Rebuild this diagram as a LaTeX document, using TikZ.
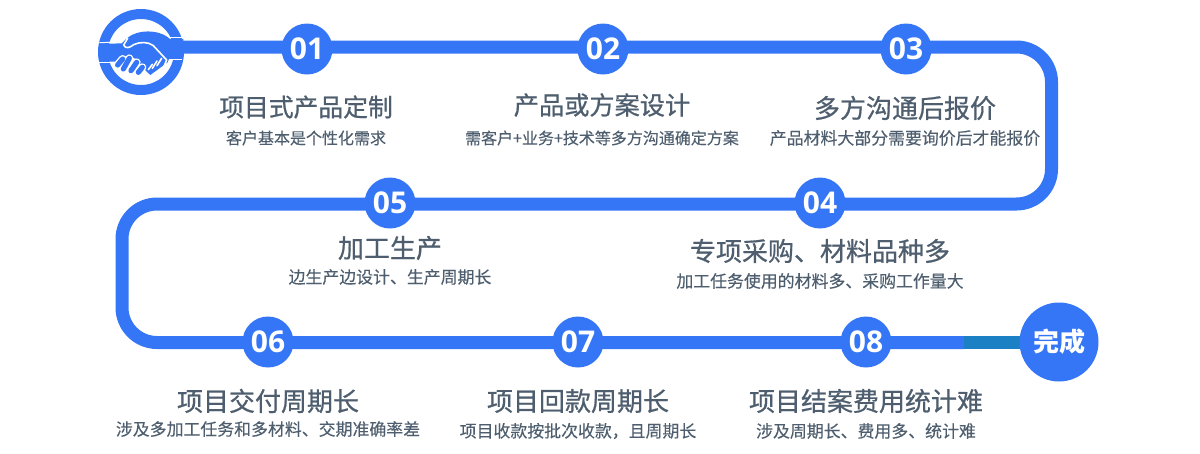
\documentclass[tikz,border=0pt]{standalone}
\usepackage{fontspec}
\usetikzlibrary{backgrounds}
\setmainfont{Noto Sans CJK SC}
\newfontfamily\numfont{Open Sans}
\newfontfamily\titlefont[FakeBold=0.7]{Noto Sans CJK SC}
\newfontfamily\subfont[FakeBold=0.2]{Noto Sans CJK SC}
\definecolor{bluemain}{HTML}{3476F6}
\definecolor{tealpart}{HTML}{1C80C4}
\definecolor{txt}{HTML}{4E5E6E}
\tikzset{
 track/.style={line width=13pt,draw=bluemain,rounded corners=35pt},
 tealtrack/.style={line width=13pt,draw=tealpart},
 numnode/.style={circle,fill=bluemain,text=white,minimum size=51pt,inner sep=0pt,font=\numfont\fontsize{30}{30}\selectfont\bfseries},
 endnode/.style={circle,fill=bluemain,text=white,minimum size=79pt,inner sep=0pt,font=\fontsize{26}{26}\selectfont\bfseries},
 titlenode/.style={text=txt,inner sep=0pt,font=\titlefont\fontsize{#1}{26}\selectfont},
 titlenode/.default=26,
 subnode/.style={text=txt,inner sep=0pt,font=\subfont\fontsize{#1}{17}\selectfont},
 subnode/.default=16.9,
 handline/.style={draw=white,line width=1.6pt,line cap=round,line join=round},
 edgeline/.style={draw=white,line width=1pt},
 fingerout/.style={draw=white,line width=8pt,line cap=round},
 fingerin/.style={draw=bluemain,line width=5.2pt,line cap=round},
}
\begin{document}
\begin{tikzpicture}[x=1pt,y=-1pt]
\useasboundingbox (0,0) rectangle (1200,453);
% icon ring
\node[circle,draw=bluemain,line width=10pt,minimum size=76pt,inner sep=0pt] (hand) at (141,52) {};
% step circles
\node[numnode] (n1) at (307,49) {01};
\node[numnode] (n2) at (603,49) {02};
\node[numnode] (n3) at (906,49) {03};
\node[numnode] (n4) at (820,203) {04};
\node[numnode] (n5) at (390,203) {05};
\node[numnode] (n6) at (268,342) {06};
\node[numnode] (n7) at (578,342) {07};
\node[numnode] (n8) at (866,342) {08};
\node[endnode] (done) at (1059,342) {完成};
\coordinate (c1) at (1051.5,47);
\coordinate (c2) at (1051.5,204);
\coordinate (c3) at (122,204);
\coordinate (c4) at (122,342.5);
\coordinate (tealstart) at (964,342.5);
\begin{pgfonlayer}{background}
\draw[track] (hand.center |- c1) -- (n1 |- c1) -- (n2 |- c1) -- (n3 |- c1) -- (c1) -- (c2) -- (n4 |- c2) -- (n5 |- c2) -- (c3) -- (c4) -- (n6 |- c4) -- (n7 |- c4) -- (n8 |- c4) -- (tealstart);
\draw[tealtrack] (tealstart) -- (done.center |- c4);
\end{pgfonlayer}
% handshake
\begin{scope}[shift={(95,5)},x=0.3333pt,y=-0.3333pt]
\fill[bluemain] (13,117) -- (80,115) -- (98,98) .. controls (125,75) and (190,70) .. (225,102) -- (265,102) -- (265,146) -- (262,162) -- (222,162) -- (218,172) -- (166,210) -- (150,195) -- (128,165) -- (100,150) -- (60,170) -- (13,170) .. controls (10,150) and (10,135) .. (13,117) -- cycle;
\draw[edgeline] (13,113) -- (80,111);
\draw[edgeline] (225,99) -- (265,99);
\draw[edgeline] (8,174) -- (57,174);
\draw[edgeline] (222,165) -- (262,165);
\draw[handline] (98,100) -- (86,120) .. controls (92,133) and (104,128) .. (116,119) .. controls (135,110) and (160,110) .. (175,122) -- (215,165) -- (205,190);
\draw[fingerout] (83,162) -- (68,180);
\draw[fingerout] (103,160) -- (85,192);
\draw[fingerout] (125,172) -- (108,197);
\draw[fingerout] (142,187) -- (130,202);
\draw[fingerin] (83,162) -- (68,180);
\draw[fingerin] (103,160) -- (85,192);
\draw[fingerin] (125,172) -- (108,197);
\draw[fingerin] (142,187) -- (130,202);
\draw[handline] (172,178) -- (160,194);
\draw[handline] (186,168) -- (172,190);
\draw[handline] (200,160) -- (186,182);
\end{scope}
% texts
\node[titlenode=24.8] (t1) at (306,107) {项目式产品定制};
\node[subnode=16] (s1) at (306,138) {客户基本是个性化需求};
\node[titlenode=25.2] (t2) at (602,105) {产品或方案设计};
\node[subnode=16] (s2) at (602,138) {需客户+业务+技术等多方沟通确定方案};
\node[titlenode] (t3) at (905,108) {多方沟通后报价};
\node[subnode] (s3) at (905,138) {产品材料大部分需要询价后才能报价};
\node[titlenode] (t4) at (820,251) {专项采购、材料品种多};
\node[subnode] (s4) at (820,281) {加工任务使用的材料多、采购工作量大};
\node[titlenode] (t5) at (390,248) {加工生产};
\node[subnode] (s5) at (390,277) {边生产边设计、生产周期长};
\node[titlenode] (t6) at (268,401) {项目交付周期长};
\node[subnode] (s6) at (268,429) {涉及多加工任务和多材料、交期准确率差};
\node[titlenode] (t7) at (578,401) {项目回款周期长};
\node[subnode] (s7) at (578,431) {项目收款按批次收款，且周期长};
\node[titlenode] (t8) at (866,401) {项目结案费用统计难};
\node[subnode] (s8) at (866,431) {涉及周期长、费用多、统计难};
\end{tikzpicture}
\end{document}
